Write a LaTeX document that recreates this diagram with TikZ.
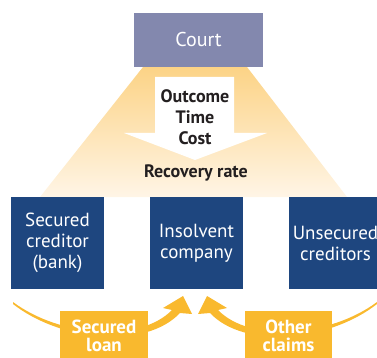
\documentclass[tikz,border=0pt]{standalone}
\usepackage{fontspec}
\setmainfont{PT Sans}
\definecolor{courtc}{HTML}{8388AE}
\definecolor{navy}{HTML}{1E467F}
\definecolor{amber}{HTML}{F9B92E}
\definecolor{gtop}{HTML}{FCD386}
\definecolor{gbot}{HTML}{FFF5E6}
\definecolor{ink}{HTML}{231F20}
\tikzset{
  courtbox/.style={fill=courtc, text=white, minimum width=129pt, minimum height=54pt, inner sep=0pt, font=\fontsize{20}{24}\selectfont},
  bluebox/.style={fill=navy, text=white, minimum width=93pt, minimum height=92pt, inner sep=0pt, align=center, font=\fontsize{19}{21}\selectfont},
  labelbox/.style={fill=amber, text=white, minimum width=88pt, minimum height=50pt, inner sep=0pt, align=center, font=\fontsize{19}{18}\selectfont\bfseries},
  factor/.style={text=ink, align=center, inner sep=0pt, font=\fontsize{18}{21}\selectfont\bfseries},
  swoosh/.style={fill=amber, draw=none}
}
\begin{document}
\begin{tikzpicture}[x=1pt,y=-1pt]
\useasboundingbox (0,0) rectangle (377,358);
\clip (0,0) rectangle (377,358);
% funnel
\shade[top color=gtop, bottom color=gbot] (143,67) -- (247,67) -- (347,197) -- (40,197) -- cycle;
% white arrow
\fill[white] (155,77) -- (234,77) -- (234,133) -- (267,133) -- (195,160) -- (124,133) -- (155,133) -- cycle;
\node[courtbox] (court) at (198.5,40) {Court};
\node[factor] (factors) at (195,117) {Outcome\\Time\\Cost};
\node[factor, anchor=base] (rate) at (196,177.5) {Recovery rate};
% boxes
\node[bluebox] (bank) at (57.5,243) {Secured\\creditor\\(bank)};
\node[bluebox] (company) at (196.5,243) {Insolvent\\company};
\node[bluebox] (unsec) at (335.5,243) {Unsecured\\creditors};
% swooshes
\fill[swoosh] (13,302) .. controls (60,337) and (140,343) .. (172,310) -- (163,308) -- (183,296) -- (192,314) -- (180,313) .. controls (145,350) and (60,341) .. (13,304) -- cycle;
\fill[swoosh] (377,302) .. controls (330,337) and (250,343) .. (218,310) -- (227,308) -- (207,296) -- (198,314) -- (210,313) .. controls (245,350) and (330,341) .. (377,304) -- cycle;
\node[labelbox] (loan) at (104,336) {Secured\\loan};
\node[labelbox, minimum width=87pt] (claims) at (288.5,336) {Other\\claims};
\end{tikzpicture}
\end{document}
